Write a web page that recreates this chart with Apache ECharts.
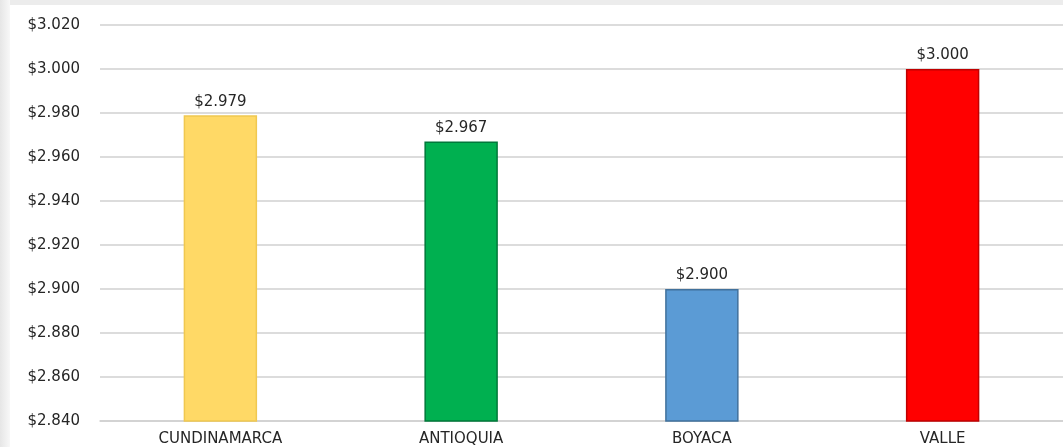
<!DOCTYPE html>
<html>
<head>
<meta charset="utf-8">
<script src="https://cdn.jsdelivr.net/npm/echarts@6/dist/echarts.min.js"></script>
<style>
html,body{margin:0;padding:0;background:#fff;}
#c{width:1063px;height:447px;}
</style>
</head>
<body>
<div id="c"></div>
<script>
var categories = ['CUNDINAMARCA', 'ANTIOQUIA', 'BOYACA', 'VALLE'];
var values = [2979, 2967, 2900, 3000];
var barColors = ['#FFD966', '#00B050', '#5B9BD5', '#FF0000'];
var borderColors = ['#F0C850', '#00783A', '#41719C', '#C00000'];
var yMin = 2840, yMax = 3020, yStep = 20;

function money(v) { return '$' + (v / 1000).toFixed(3); }

var chart = echarts.init(document.getElementById('c'));
chart.setOption({
  backgroundColor: '#ffffff',
  animation: false,
  graphic: [
    { type: 'rect', left: 0, top: 0, shape: { width: 1063, height: 5 }, style: { fill: '#ececec' }, z: 0 },
    { type: 'rect', left: 0, top: 0, shape: { width: 10, height: 447 },
      style: { fill: new echarts.graphic.LinearGradient(0, 0, 1, 0, [{ offset: 0, color: '#e6e6e6' }, { offset: 1, color: '#f8f8f8' }]) }, z: 0 }
  ],
  grid: { left: 100, right: 0, top: 25, bottom: 26, containLabel: false },
  xAxis: {
    type: 'category',
    data: categories,
    axisTick: { show: false },
    axisLine: { show: true, lineStyle: { color: '#d0d0d0', width: 1.5 } },
    axisLabel: { color: '#262626', fontFamily: 'DejaVu Sans', fontSize: 15, margin: 11 }
  },
  yAxis: {
    type: 'value',
    min: yMin, max: yMax, interval: yStep,
    axisLine: { show: false },
    axisTick: { show: false },
    splitLine: { lineStyle: { color: '#d0d0d0', width: 1.5 } },
    axisLabel: { color: '#262626', fontFamily: 'DejaVu Sans', fontSize: 15, margin: 20, formatter: money }
  },
  series: [{
    type: 'bar',
    barWidth: '30.5%',
    data: values.map(function (v, i) {
      return { value: v, itemStyle: { color: barColors[i], borderColor: borderColors[i], borderWidth: 1.5 } };
    }),
    label: {
      show: true, position: 'top', distance: 6,
      color: '#262626', fontFamily: 'DejaVu Sans', fontSize: 15,
      formatter: function (p) { return money(p.value); }
    }
  }]
});
</script>
</body>
</html>
